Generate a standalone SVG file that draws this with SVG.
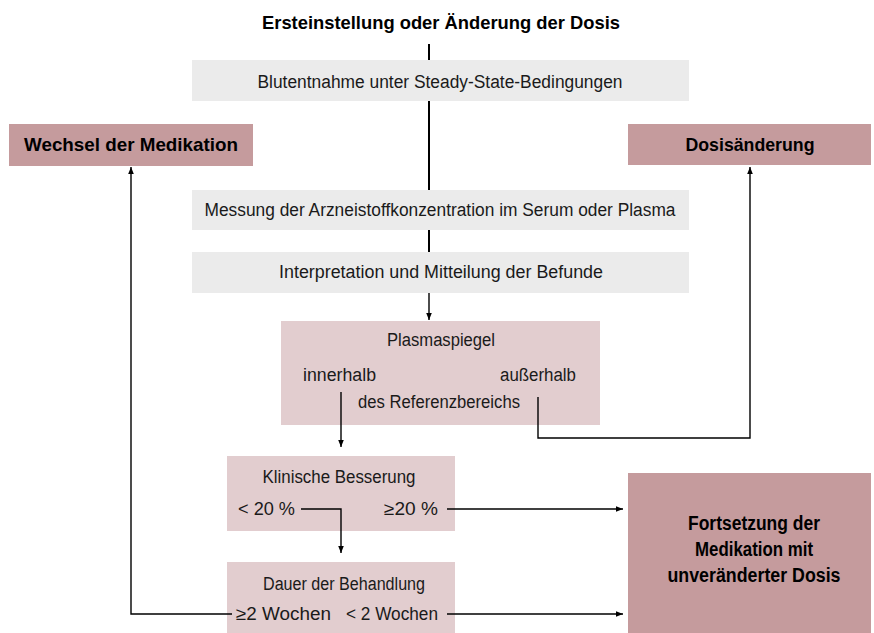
<svg xmlns="http://www.w3.org/2000/svg" width="874" height="633" viewBox="0 0 874 633">
<defs>
<style>
.t{font-family:"Liberation Sans",Arial,sans-serif;font-size:18px;fill:#1a1a1a}
.b{font-weight:bold;fill:#000;font-size:18.5px}
.grey{fill:#ebebeb}
.lp{fill:#e2cdcf}
.dp{fill:#c59b9d}
.c{fill:none;stroke:#000;stroke-width:1.4}
.trunk{fill:none;stroke:#000;stroke-width:2}
</style>
<marker id="ah" viewBox="0 0 10 10" refX="10" refY="5" markerWidth="8" markerHeight="7" markerUnits="userSpaceOnUse" orient="auto">
<path d="M0,1 L10,5 L0,9 z" fill="#000"/>
</marker>
</defs>
<rect width="874" height="633" fill="#fff"/>

<g id="title">
<text class="t b" x="441" y="29" text-anchor="middle" textLength="358" lengthAdjust="spacingAndGlyphs">Ersteinstellung oder Änderung der Dosis</text>
</g>
<g id="blut">
<rect class="grey" x="192" y="60" width="497" height="41"/>
<text class="t" x="440" y="88" text-anchor="middle" textLength="365" lengthAdjust="spacingAndGlyphs">Blutentnahme unter Steady-State-Bedingungen</text>
</g>
<g id="wechsel">
<rect class="dp" x="9" y="124" width="244" height="42"/>
<text class="t b" x="131" y="151" text-anchor="middle" textLength="214" lengthAdjust="spacingAndGlyphs">Wechsel der Medikation</text>
</g>
<g id="dosis">
<rect class="dp" x="628" y="124" width="243" height="41"/>
<text class="t b" x="750" y="151" text-anchor="middle" textLength="129" lengthAdjust="spacingAndGlyphs">Dosisänderung</text>
</g>
<g id="messung">
<rect class="grey" x="192" y="190" width="497" height="40"/>
<text class="t" x="440" y="216" text-anchor="middle" textLength="471" lengthAdjust="spacingAndGlyphs">Messung der Arzneistoffkonzentration im Serum oder Plasma</text>
</g>
<g id="interp">
<rect class="grey" x="192" y="252" width="497" height="41"/>
<text class="t" x="441" y="278" text-anchor="middle" textLength="324" lengthAdjust="spacingAndGlyphs">Interpretation und Mitteilung der Befunde</text>
</g>
<g id="plasma">
<rect class="lp" x="281" y="321" width="319" height="104"/>
<text class="t" x="441" y="346" text-anchor="middle" textLength="108" lengthAdjust="spacingAndGlyphs">Plasmaspiegel</text>
<text class="t" x="303" y="381" textLength="73" lengthAdjust="spacingAndGlyphs">innerhalb</text>
<text class="t" x="500" y="381" textLength="76" lengthAdjust="spacingAndGlyphs">außerhalb</text>
<text class="t" x="439" y="408" text-anchor="middle" textLength="162" lengthAdjust="spacingAndGlyphs">des Referenzbereichs</text>
</g>
<g id="klinisch">
<rect class="lp" x="227" y="456" width="228" height="75"/>
<text class="t" x="339" y="483" text-anchor="middle" textLength="153" lengthAdjust="spacingAndGlyphs">Klinische Besserung</text>
<text class="t" x="238" y="515" textLength="57" lengthAdjust="spacingAndGlyphs">&lt; 20 %</text>
<text class="t" x="384" y="515" textLength="54" lengthAdjust="spacingAndGlyphs">≥20 %</text>
</g>
<g id="dauer">
<rect class="lp" x="227" y="562" width="228" height="71"/>
<text class="t" x="344" y="590" text-anchor="middle" textLength="162" lengthAdjust="spacingAndGlyphs">Dauer der Behandlung</text>
<text class="t" x="236" y="620" textLength="95" lengthAdjust="spacingAndGlyphs">≥2 Wochen</text>
<text class="t" x="346" y="620" textLength="92" lengthAdjust="spacingAndGlyphs">&lt; 2 Wochen</text>
</g>
<g id="fortsetzung">
<rect class="dp" x="628" y="473" width="243" height="160"/>
<text class="t b" x="754" y="530" text-anchor="middle" textLength="132" lengthAdjust="spacingAndGlyphs" style="font-size:19.5px">Fortsetzung der</text>
<text class="t b" x="754" y="556" text-anchor="middle" textLength="118" lengthAdjust="spacingAndGlyphs" style="font-size:19.5px">Medikation mit</text>
<text class="t b" x="754" y="582" text-anchor="middle" textLength="173" lengthAdjust="spacingAndGlyphs" style="font-size:19.5px">unveränderter Dosis</text>
</g>

<g id="connectors">
<line class="trunk" x1="429" y1="44" x2="429" y2="60"/>
<line class="trunk" x1="429" y1="101" x2="429" y2="190"/>
<line class="trunk" x1="429" y1="230" x2="429" y2="252"/>
<line class="c" x1="429" y1="293" x2="429" y2="320" marker-end="url(#ah)"/>
<line class="c" x1="341" y1="392" x2="341" y2="447" marker-end="url(#ah)"/>
<polyline class="c" points="538,397 538,438 750,438 750,167" marker-end="url(#ah)"/>
<polyline class="c" points="301,509 341,509 341,553" marker-end="url(#ah)"/>
<line class="c" x1="447" y1="509" x2="623" y2="509" marker-end="url(#ah)"/>
<line class="c" x1="447" y1="614" x2="623" y2="614" marker-end="url(#ah)"/>
<polyline class="c" points="232,614 131,614 131,167" marker-end="url(#ah)"/>
</g>
</svg>
